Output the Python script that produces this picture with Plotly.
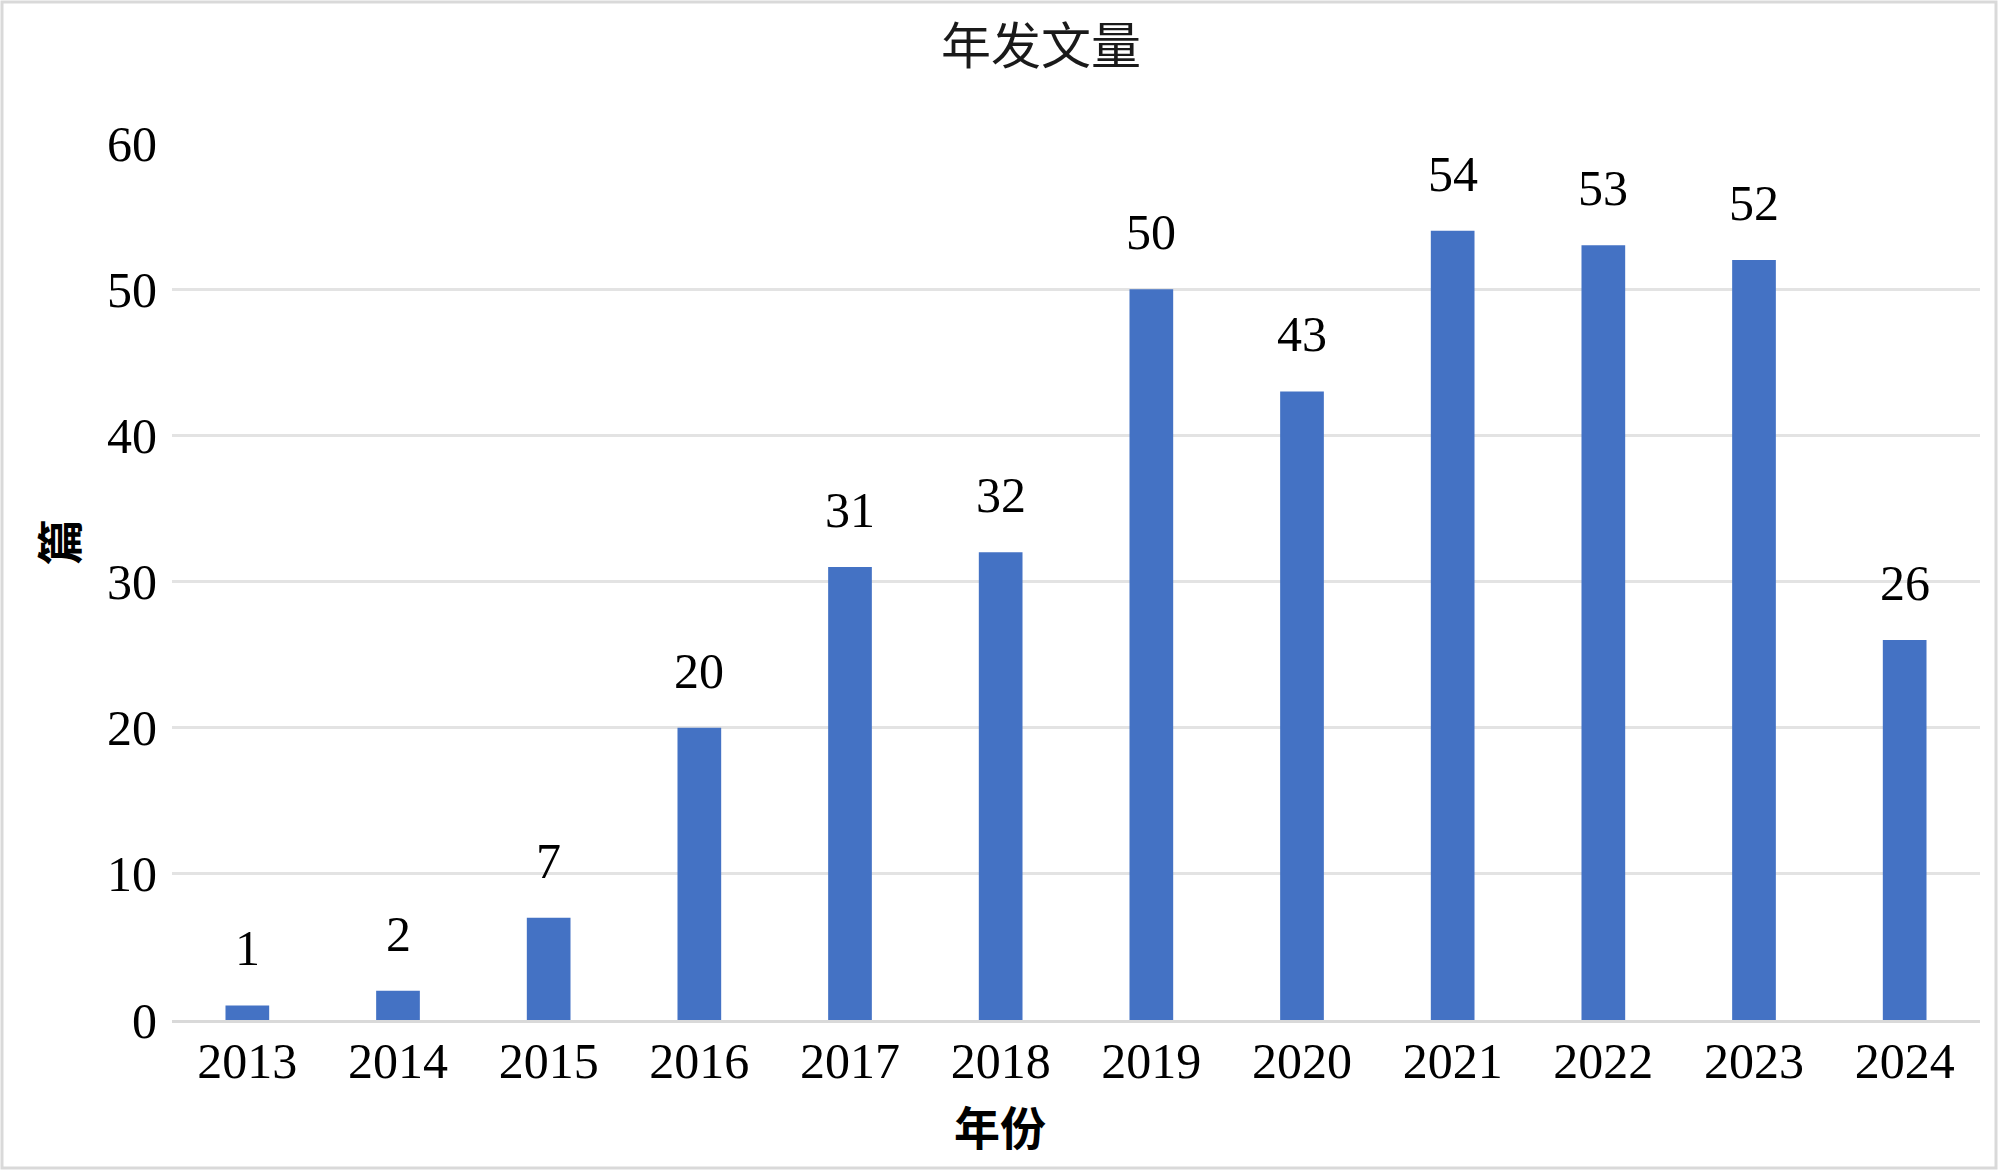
import plotly.graph_objects as go

years = ["2013", "2014", "2015", "2016", "2017", "2018", "2019", "2020", "2021", "2022", "2023", "2024"]
counts = [1, 2, 7, 20, 31, 32, 50, 43, 54, 53, 52, 26]
y_ticks = [0, 10, 20, 30, 40, 50, 60]

title_text = "年发文量"
x_title = "年份"
y_title = "篇"

W, H = 2000, 1171
L, R, T, B = 172, 20, 143, 151
pw, ph = W - L - R, H - T - B

def px_x(px):
    return (px - L) / pw

def px_y(py):
    return (H - B - py) / ph

SERIF = "Liberation Serif, Noto Sans CJK SC, serif"
CJK = "Noto Sans CJK SC, sans-serif"

fig = go.Figure()
fig.add_trace(go.Bar(
    x=years, y=counts,
    marker=dict(color="#4472C4", line=dict(width=0)),
    hoverinfo="x+y",
))

annotations = []
for i, v in enumerate(counts):
    annotations.append(dict(
        x=i, y=v, xref="x", yref="y", text=str(v), showarrow=False,
        yanchor="middle", yshift=57,
        font=dict(family=SERIF, size=50, color="#000000"),
    ))

annotations.append(dict(
    x=px_x(1041), y=px_y(42), xref="paper", yref="paper", text=title_text,
    showarrow=False, xanchor="center", yanchor="middle",
    font=dict(family=CJK, size=50, color="#1a1a1a"),
))
annotations.append(dict(
    x=px_x(1000), y=px_y(1125), xref="paper", yref="paper", text="<b>" + x_title + "</b>",
    showarrow=False, xanchor="center", yanchor="middle",
    font=dict(family=CJK, size=46, color="#000000"),
))
annotations.append(dict(
    x=px_x(57), y=px_y(542), xref="paper", yref="paper", text="<b>" + y_title + "</b>",
    showarrow=False, xanchor="center", yanchor="middle", textangle=-90,
    font=dict(family=CJK, size=46, color="#000000"),
))

fig.update_layout(
    width=W, height=H,
    margin=dict(l=L, r=R, t=T, b=B, pad=0),
    paper_bgcolor="white", plot_bgcolor="white",
    showlegend=False,
    bargap=0.71,
    annotations=annotations,
    shapes=[dict(
        type="rect", xref="paper", yref="paper",
        x0=px_x(2), x1=px_x(1996), y0=px_y(1168), y1=px_y(2),
        line=dict(color="#d9d9d9", width=3), fillcolor="rgba(0,0,0,0)", layer="below",
    )],
    xaxis=dict(
        type="category", range=[-0.5, len(years) - 0.5],
        showgrid=False, zeroline=False,
        showline=True, linecolor="#d9d9d9", linewidth=3,
        ticks="", tickfont=dict(family=SERIF, size=50, color="#000000"),
        ticklabelstandoff=-5,
    ),
    yaxis=dict(
        range=[0, 60], tickvals=y_ticks, showgrid=True, gridcolor="#e3e3e3", gridwidth=3,
        zeroline=False, showline=False, ticks="",
        tickfont=dict(family=SERIF, size=50, color="#000000"),
        ticklabelstandoff=14,
    ),
)

fig.write_html(
    "out.html",
    config={"displayModeBar": False},
    post_script="document.body.style.margin='0';document.body.style.overflow='hidden';",
)
